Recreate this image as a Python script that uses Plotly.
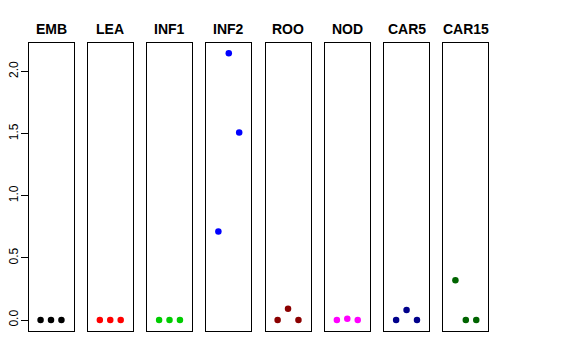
import plotly.graph_objects as go

groups = ["EMB", "LEA", "INF1", "INF2", "ROO", "NOD", "CAR5", "CAR15"]
emb = [0.0, 0.0, 0.0]
lea = [0.0, 0.0, 0.0]
inf1 = [0.0, 0.0, 0.0]
inf2 = [0.713, 2.147, 1.508]
roo = [0.0, 0.091, 0.0]
nod = [0.0, 0.01, 0.0]
car5 = [0.0, 0.08, 0.0]
car15 = [0.319, 0.0, 0.0]
values = [emb, lea, inf1, inf2, roo, nod, car5, car15]
colors = ["#000000", "#FF0000", "#00CD00", "#0000FF", "#8B0000", "#FF00FF", "#00008B", "#006400"]
reps = [1, 2, 3]
yticks = [0.0, 0.5, 1.0, 1.5, 2.0]

W, H = 576, 360
OFF = 8  # page body margin offset
fig = go.Figure()
left0, pitch, pw = 28.5 - OFF, 59.26, 45.0
top_px, bot_px = 42.5 - OFF, 330.7 - OFF

for i, (g, v, c) in enumerate(zip(groups, values, colors)):
    xa = "x" if i == 0 else f"x{i+1}"
    ya = "y" if i == 0 else f"y{i+1}"
    fig.add_trace(go.Scatter(x=reps, y=v, mode="markers",
                             marker=dict(color=c, size=6.5, line=dict(width=0)),
                             xaxis=xa, yaxis=ya, showlegend=False))
    l = left0 + i * pitch
    xd = [l / W, (l + pw) / W]
    yd = [1 - bot_px / H, 1 - top_px / H]
    xkey = "xaxis" if i == 0 else f"xaxis{i+1}"
    ykey = "yaxis" if i == 0 else f"yaxis{i+1}"
    fig.update_layout(**{
        xkey: dict(domain=xd, range=[-0.16, 4.16], showgrid=False, zeroline=False,
                   showticklabels=False, ticks="", showline=True, mirror=True,
                   linecolor="black", linewidth=1, anchor=ya, automargin=False),
        ykey: dict(domain=yd, range=[-0.086, 2.233], showgrid=False, zeroline=False,
                   showline=True, mirror=True, linecolor="black", linewidth=1,
                   anchor=xa, automargin=False,
                   showticklabels=(i == 0), ticks="outside" if i == 0 else "",
                   ticklen=7, tickcolor="black", tickvals=yticks,
                   ticktext=[f"{t:.1f}" for t in yticks], tickangle=-90,
                   ticklabelstandoff=-2,
                   tickfont=dict(size=12, color="black", family="Liberation Sans")),
    })
    fig.add_annotation(x=(l + pw / 2) / W, y=1 - (29 - OFF) / H, xref="paper", yref="paper",
                       text=f"<b>{g}</b>", showarrow=False,
                       font=dict(size=14, color="black", family="Liberation Sans"),
                       xanchor="center", yanchor="middle")

fig.update_layout(width=W, height=H, margin=dict(l=0, r=0, t=0, b=0, autoexpand=False),
                  plot_bgcolor="white", paper_bgcolor="white")
fig.write_html("out.html")
